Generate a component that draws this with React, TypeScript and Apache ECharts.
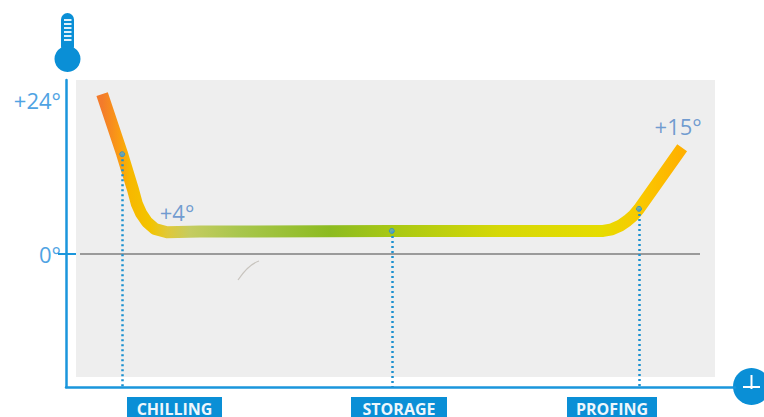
import React, { useEffect, useRef } from "react";
import * as echarts from "echarts";

// Curve: time position (0-100 of the axis) and temperature (deg C on the drawn scale)
const curveTime = [5.4, 8.4, 10.03, 10.6, 11.2, 12.1, 13.3, 15.1, 20, 48.7, 80.3, 81.6, 82.8, 83.9, 84.8, 85.65, 92.1];
const curveTemp = [25.0, 15.6, 10.0, 7.8, 6.4, 5.0, 3.9, 3.4, 3.5, 3.6, 3.6, 3.85, 4.4, 5.2, 6.0, 7.05, 16.6];

const phaseNames = ["CHILLING", "STORAGE", "PROFING"];
const phaseTime = [8.4, 48.7, 85.65];
const phaseTemp = [15.6, 3.6, 7.05];

const calloutText = ["+4°", "+15°"];
const calloutTime = [15.1, 92.1];
const calloutTemp = [3.4, 16.6];

const yTickValues = [0, 24];
const yTickLabels: Record<number, string> = { 0: "0°", 24: "+24°" };

const BLUE = "#1a96dc";
const DEEP = "#0a8fd6";
const FONT = '"Open Sans", sans-serif';

const stops: [number, string][] = [
  [0, "#f37b2b"], [0.028, "#fa9a14"], [0.048, "#f7b800"], [0.083, "#f3c400"],
  [0.112, "#e0c838"], [0.152, "#c4cc60"], [0.238, "#a8c64c"], [0.393, "#8cbb20"],
  [0.5, "#a8c814"], [0.686, "#d6d806"], [0.859, "#e6dc00"], [0.93, "#fac800"], [1, "#ffb000"],
];

const phaseBoxes = [
  { x: 127, w: 95 },
  { x: 351, w: 96 },
  { x: 567, w: 90 },
];

export default function App() {
  const ref = useRef<HTMLDivElement>(null);
  useEffect(() => {
    document.body.style.margin = "0";
    const chart = echarts.init(ref.current!, undefined, { renderer: "svg" });
    chart.setOption({
      animation: false,
      backgroundColor: "#ffffff",
      grid: { left: 66, top: 80, width: 669, height: 307 },
      xAxis: {
        type: "value", min: 0, max: 100,
        splitLine: { show: false }, axisTick: { show: false }, axisLabel: { show: false },
        axisLine: { show: true, onZero: false, lineStyle: { color: BLUE, width: 2.5 } },
      },
      yAxis: {
        type: "value", min: -20.8, max: 27.2,
        splitLine: { show: false },
        axisLine: { show: true, onZero: false, lineStyle: { color: BLUE, width: 2.5 } },
        axisTick: { show: false },
        axisLabel: {
          show: true, customValues: yTickValues, margin: 5,
          formatter: (v: number) => yTickLabels[v] ?? "",
          color: "#4fa3e3", fontFamily: FONT, fontSize: 22,
        },
      },
      graphic: [
        { type: "rect", z: -10, shape: { x: 76, y: 80, width: 639, height: 297 }, style: { fill: "#eeeeee" } },
        { type: "line", z: 1, shape: { x1: 80, y1: 254, x2: 700, y2: 254 }, style: { stroke: "#9a9a9a", lineWidth: 2 } },
        { type: "line", z: 1, shape: { x1: 58, y1: 254, x2: 76, y2: 254 }, style: { stroke: BLUE, lineWidth: 2 } },
        { type: "bezierCurve", z: 1, shape: { x1: 238, y1: 280, cpx1: 244, cpy1: 271, cpx2: 250, cpy2: 264, x2: 259, y2: 261 }, style: { stroke: "#c8c4be", lineWidth: 1.2, fill: "none" } },
        // thermometer
        { type: "rect", shape: { x: 61, y: 13, width: 13, height: 40, r: 6.5 }, style: { fill: DEEP } },
        { type: "circle", shape: { cx: 67.5, cy: 59, r: 13 }, style: { fill: DEEP } },
        ...[19, 23, 27, 31, 35, 39].map((y) => ({
          type: "rect", shape: { x: 64, y, width: 7.5, height: 2 }, style: { fill: "#dff1fb" },
        })),
        // clock
        { type: "circle", shape: { cx: 751.5, cy: 386.5, r: 18.5 }, style: { fill: DEEP } },
        { type: "rect", shape: { x: 743, y: 386, width: 17, height: 2 }, style: { fill: "#ffffff" } },
        { type: "rect", shape: { x: 750.5, y: 375, width: 2, height: 14 }, style: { fill: "#ffffff" } },
        // phase tags
        ...phaseNames.flatMap((name, i) => [
          { type: "rect", shape: { x: phaseBoxes[i].x, y: 397, width: phaseBoxes[i].w, height: 22 }, style: { fill: DEEP } },
          {
            type: "text", x: phaseBoxes[i].x + phaseBoxes[i].w / 2, y: 408.5,
            style: { text: name, fill: "#eef7fc", font: `bold 16px ${FONT}`, textAlign: "center", textVerticalAlign: "middle" },
          },
        ]),
      ],
      series: [
        {
          type: "line", z: 3,
          data: curveTime.map((t, i) => [t, curveTemp[i]]),
          showSymbol: false, symbol: "none",
          smooth: false,
          lineStyle: {
            width: 12, cap: "butt", join: "round",
            color: new echarts.graphic.LinearGradient(0, 0, 1, 0, stops.map(([offset, color]) => ({ offset, color }))),
          },
          silent: true,
        },
        {
          type: "scatter", z: 5,
          data: phaseTime.map((t, i) => [t, phaseTemp[i]]),
          symbol: "circle", symbolSize: 5,
          itemStyle: { color: "#5aa5c8", borderColor: "#2a90c8", borderWidth: 1 },
          silent: true,
          markLine: {
            silent: true, symbol: "none", label: { show: false }, z: 4,
            lineStyle: { color: "#1a90d0", type: [2, 3], width: 2.5 },
            data: phaseTime.map((t, i) => [{ coord: [t, phaseTemp[i]] }, { coord: [t, -20.8] }]),
          },
        },
        {
          type: "scatter", z: 6,
          data: calloutTime.map((t, i) => ({ value: [t, calloutTemp[i]], name: calloutText[i] })),
          symbolSize: 0, silent: true,
          label: {
            show: true, position: "inside",
            formatter: (p: any) => p.name,
            color: "#4f86c8", fontFamily: FONT, fontSize: 22,
          },
          labelLayout: (p: any) => (p.dataIndex === 1 ? { dx: -4, dy: -22 } : { dx: 10, dy: -20 }),
        },
      ],
    });
    return () => chart.dispose();
  }, []);
  return <div ref={ref} style={{ position: "absolute", left: 0, top: 0, width: 764, height: 417 }} />;
}
